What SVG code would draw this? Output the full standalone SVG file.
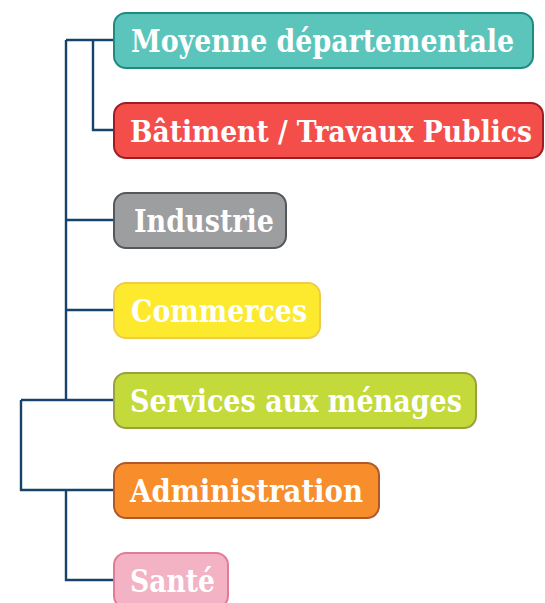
<svg xmlns="http://www.w3.org/2000/svg" width="545" height="603" viewBox="0 0 545 603">
<style>
.box{stroke-width:2}
.lbl{font-family:"DejaVu Serif Condensed","DejaVu Serif","Liberation Serif",serif;font-weight:bold;font-size:31px;fill:#ffffff}
.conn{fill:none;stroke:#17436b;stroke-width:2.4}
</style>
<rect width="545" height="603" fill="#ffffff"/>
<g id="connectors">
<path class="conn" d="M66,40 H114 M93,40 V130 H114 M66,40 V400 M66,220 H114 M66,310 H114 M21,400 H114 M21,400 V490 H114 M66,490 V580 H114"/>
</g>
<g id="moyenne">
<rect class="box" x="114" y="13" width="419" height="55" rx="12" fill="#5bc5bc" stroke="#1f8b80"/>
<text class="lbl" x="131" y="52" textLength="383" lengthAdjust="spacingAndGlyphs">Moyenne départementale</text>
</g>
<g id="btp">
<rect class="box" x="114" y="103" width="429" height="55" rx="12" fill="#f44e4a" stroke="#9e1c22"/>
<text class="lbl" x="130" y="142" style="font-size:29px" textLength="402" lengthAdjust="spacingAndGlyphs">Bâtiment / Travaux Publics</text>
</g>
<g id="industrie">
<rect class="box" x="114" y="193" width="172" height="55" rx="12" fill="#9c9e9f" stroke="#55585a"/>
<text class="lbl" x="134" y="232" textLength="140" lengthAdjust="spacingAndGlyphs">Industrie</text>
</g>
<g id="commerces">
<rect class="box" x="114" y="283" width="206" height="55" rx="12" fill="#fdea2e" stroke="#efcb4a"/>
<text class="lbl" x="131" y="322" textLength="176" lengthAdjust="spacingAndGlyphs">Commerces</text>
</g>
<g id="services">
<rect class="box" x="114" y="373" width="362" height="55" rx="12" fill="#c3da3a" stroke="#9aa03a"/>
<text class="lbl" x="130" y="412" textLength="332" lengthAdjust="spacingAndGlyphs">Services aux ménages</text>
</g>
<g id="administration">
<rect class="box" x="114" y="463" width="265" height="55" rx="12" fill="#f88d2b" stroke="#b0582a"/>
<text class="lbl" x="130" y="502" textLength="233" lengthAdjust="spacingAndGlyphs">Administration</text>
</g>
<g id="sante">
<rect class="box" x="114" y="553" width="114" height="55" rx="12" fill="#f4b2c5" stroke="#e47a9a"/>
<text class="lbl" x="130" y="592" textLength="85" lengthAdjust="spacingAndGlyphs">Santé</text>
</g>
</svg>
